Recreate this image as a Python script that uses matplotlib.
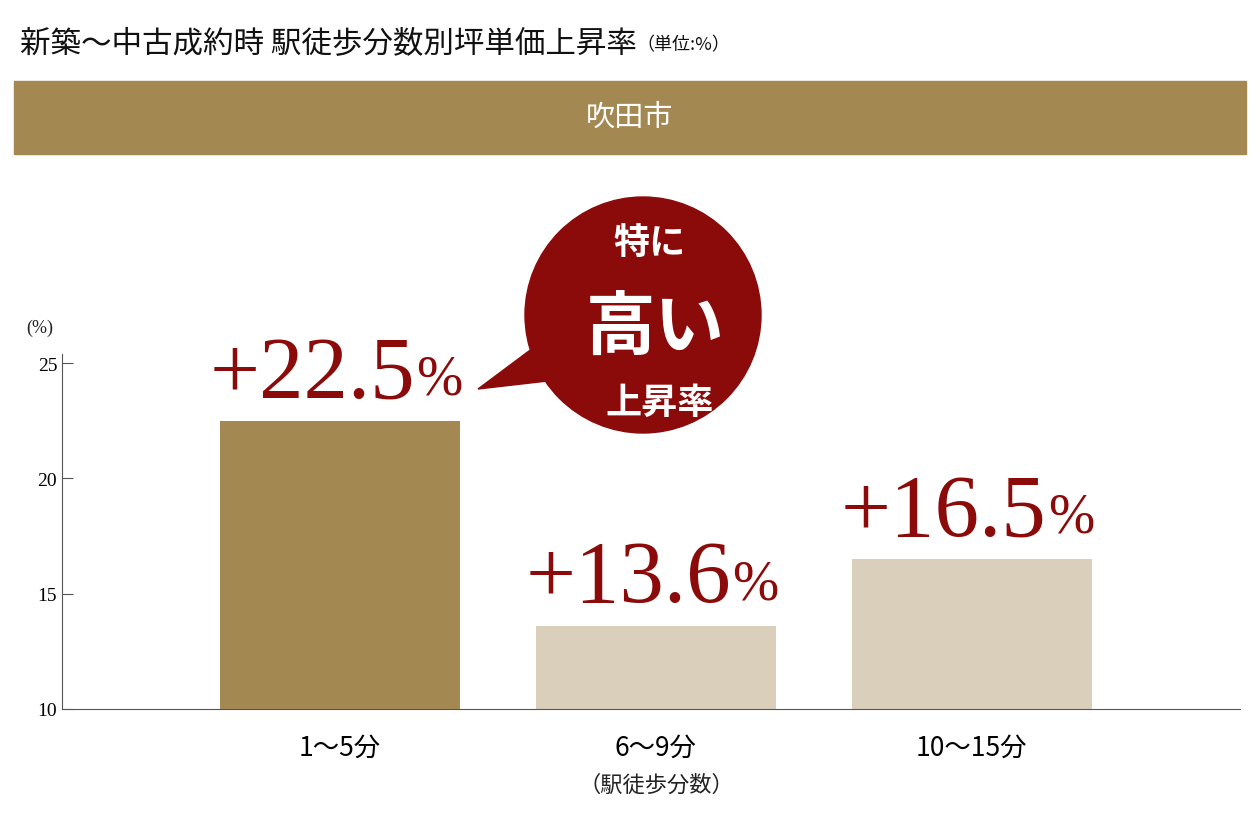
import matplotlib
matplotlib.use("Agg")
import matplotlib.pyplot as plt
from matplotlib.patches import Circle, Polygon, Rectangle

plt.rcParams['font.family'] = ['Noto Sans CJK JP', 'DejaVu Sans']

categories = ["1〜5分", "6〜9分", "10〜15分"]
values = [22.5, 13.6, 16.5]
labels = ["+22.5", "+13.6", "+16.5"]
bar_colors = ["#a38852", "#d9cfbb", "#d9cfbb"]
yticks = [10, 15, 20, 25]

RED = "#8b0a0a"
GOLD = "#a38852"
SERIF = ['Liberation Serif', 'DejaVu Serif']

fig = plt.figure(figsize=(12.6, 8.2), dpi=100)

ov = fig.add_axes([0, 0, 1, 1])
ov.set_xlim(0, 1260); ov.set_ylim(820, 0); ov.axis('off')
ov.add_patch(Rectangle((14, 82), 1232, 73, color=GOLD))
ov.text(630, 118, "吹田市", color="white", fontsize=21, ha='center', va='center')
t = ov.text(20, 45, "新築〜中古成約時 駅徒歩分数別坪単価上昇率", fontsize=22, va='center', color="#111")
ov.annotate("（単位:%）", xy=(1, 0.5), xycoords=t, xytext=(0, 0), textcoords='offset points',
            fontsize=13, va='center', color="#111")
ov.text(40, 328, "(%)", fontsize=13, ha='center', va='center', family=SERIF, color="#222")
ov.text(656, 785, "（駅徒歩分数）", fontsize=16, ha='center', va='center', color="#222")

ax = fig.add_axes([62/1260, 1-710/820, (1240-62)/1260, (710-355)/820])
ax.set_zorder(0); ov.set_zorder(1); ov.patch.set_alpha(0)
x = range(len(values))
ax.bar(x, [v - 10 for v in values], bottom=10, width=0.76, color=bar_colors)
ax.set_xlim(-0.88, 2.85)
ax.set_ylim(10, 25.4)
ax.set_yticks(yticks)
ax.set_yticklabels([str(v) for v in yticks], family=SERIF, fontsize=14)
ax.set_xticks(list(x))
ax.set_xticklabels(categories, fontsize=19)
ax.tick_params(axis='x', length=0, pad=18)
ax.tick_params(axis='y', length=8, direction='in', color="#555")
for s in ['top', 'right']:
    ax.spines[s].set_visible(False)
for s in ['left', 'bottom']:
    ax.spines[s].set_color("#555")

for i, (v, lab) in enumerate(zip(values, labels)):
    tt = ax.annotate(lab, xy=(i, v), xytext=(-20, 4), textcoords='offset points',
                     ha='center', va='bottom', fontsize=64, family=SERIF, color=RED)
    ax.annotate("%", xy=(1, 0), xycoords=tt, xytext=(1, 7), textcoords='offset points',
                ha='left', va='bottom', fontsize=40, family=SERIF, color=RED)

ov.add_patch(Polygon([(478, 390), (545, 340), (565, 380)], color=RED))
ov.add_patch(Circle((643, 316), 118, color=RED))
ov.text(650, 243, "特に", color="white", fontsize=26, weight='bold', ha='center', va='center')
ov.text(655, 330, "高い", color="white", fontsize=50, weight='bold', ha='center', va='center')
ov.text(660, 403, "上昇率", color="white", fontsize=26, weight='bold', ha='center', va='center')

fig.savefig("out.png", dpi=100)
